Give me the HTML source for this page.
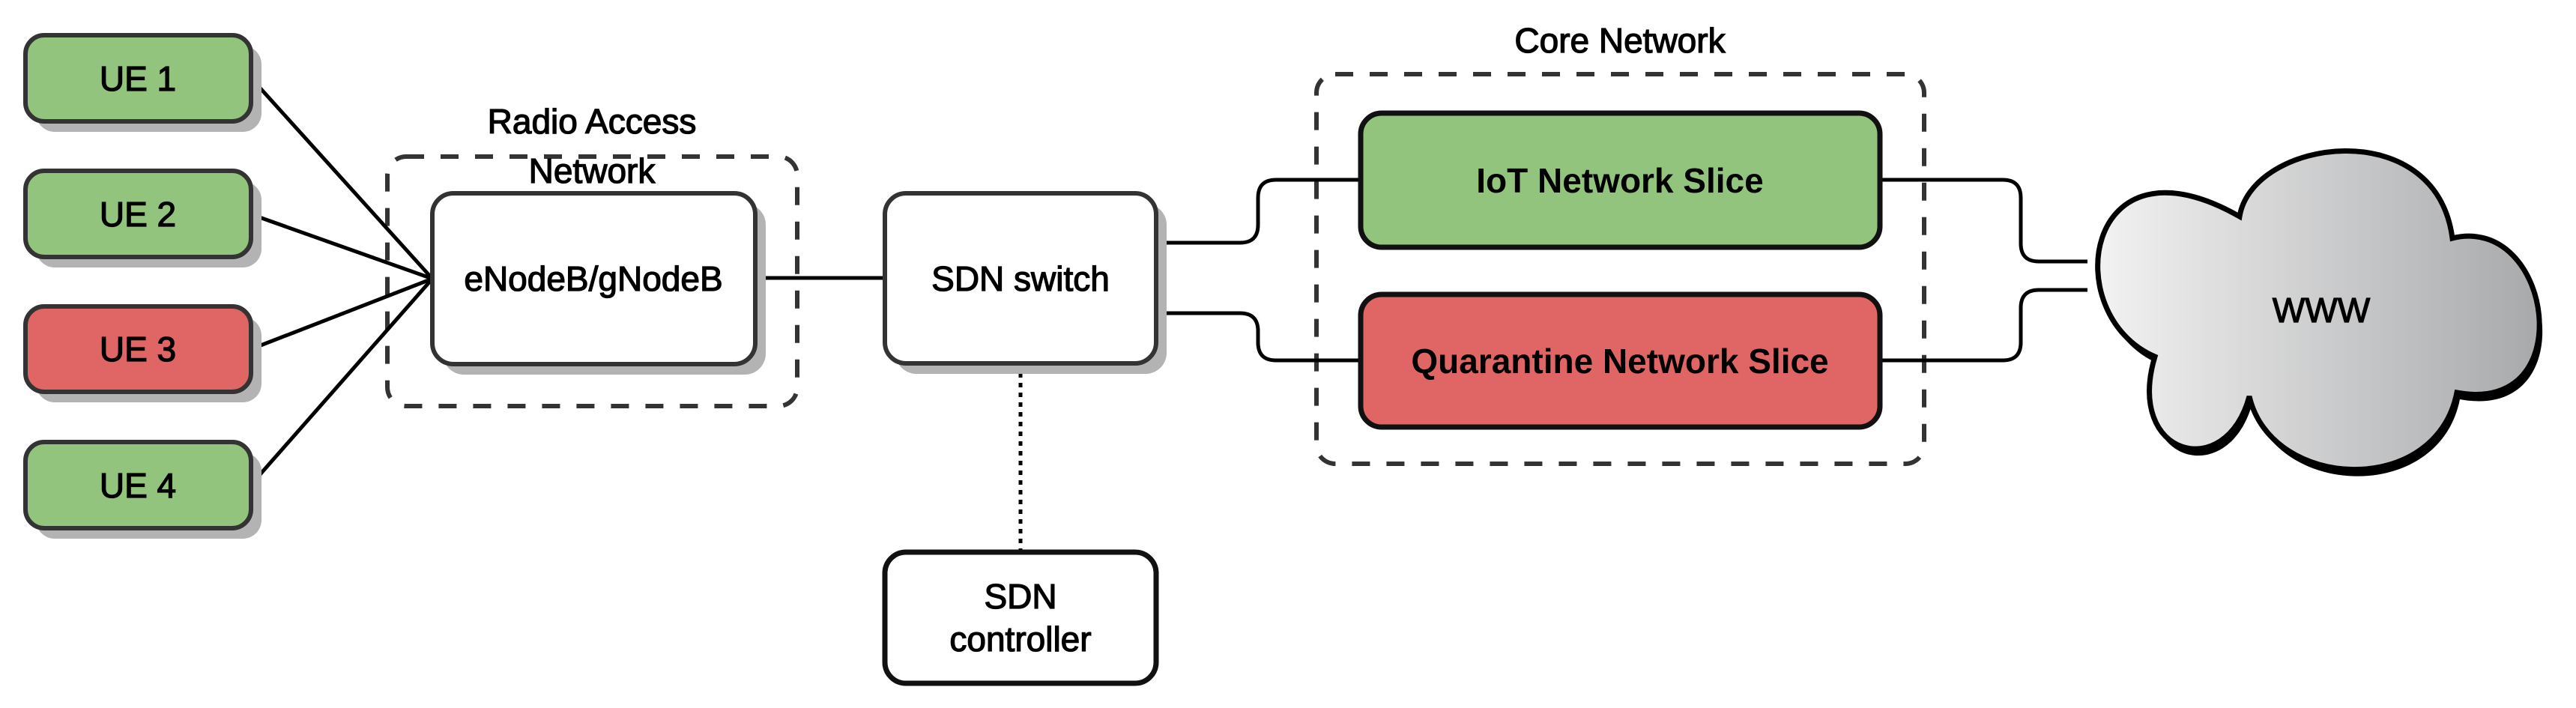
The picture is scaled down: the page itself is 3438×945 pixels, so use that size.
<!DOCTYPE html>
<html><head><meta charset="utf-8"><style>
html,body{margin:0;padding:0;background:#fff}
svg{display:block}
text{font-family:"Liberation Sans",sans-serif;fill:#000}
</style></head><body>
<svg width="3438" height="945" viewBox="0 0 3438 945" xmlns="http://www.w3.org/2000/svg">
<defs>
<linearGradient id="cg" x1="0" y1="0" x2="1" y2="0">
<stop offset="0" stop-color="#f2f2f2"/><stop offset="1" stop-color="#a8a9ab"/>
</linearGradient>
</defs>
<rect x="517" y="209" width="547" height="333" rx="25" fill="none" stroke="#333" stroke-width="6" stroke-dasharray="24 22"/>
<rect x="1757" y="99" width="811" height="520" rx="25" fill="none" stroke="#333" stroke-width="6" stroke-dasharray="24 22"/>
<g stroke="#000" stroke-width="5" fill="none">
<line x1="335" y1="104" x2="577" y2="372"/>
<line x1="335" y1="286" x2="577" y2="372"/>
<line x1="335" y1="466" x2="577" y2="372"/>
<line x1="335" y1="647" x2="577" y2="372"/>
<line x1="1008" y1="371" x2="1181" y2="371"/>
<path d="M1543 324 H1655 Q1679 324 1679 300 V264 Q1679 240 1703 240 H1816"/>
<path d="M1543 418 H1655 Q1679 418 1679 442 V457 Q1679 481 1703 481 H1816"/>
<path d="M2509 240 H2673 Q2697 240 2697 264 V325 Q2697 349 2721 349 H2786"/>
<path d="M2509 481 H2673 Q2697 481 2697 457 V411 Q2697 387 2721 387 H2786"/>
<line x1="1362" y1="485" x2="1362" y2="737" stroke-width="5" stroke-dasharray="6 7"/>
</g>
<g stroke="#333" stroke-width="6">
<rect x="48" y="61" width="301" height="115" rx="25" fill="#b3b3b3" stroke="none"/>
<rect x="34" y="47" width="301" height="115" rx="25" fill="#93c47d"/>
<rect x="48" y="242" width="301" height="115" rx="25" fill="#b3b3b3" stroke="none"/>
<rect x="34" y="228" width="301" height="115" rx="25" fill="#93c47d"/>
<rect x="48" y="423" width="301" height="114" rx="25" fill="#b3b3b3" stroke="none"/>
<rect x="34" y="409" width="301" height="114" rx="25" fill="#e06666"/>
<rect x="48" y="604" width="301" height="115" rx="25" fill="#b3b3b3" stroke="none"/>
<rect x="34" y="590" width="301" height="115" rx="25" fill="#93c47d"/>
<rect x="591" y="272" width="431" height="228" rx="28" fill="#b3b3b3" stroke="none"/>
<rect x="577" y="258" width="431" height="228" rx="28" fill="#fff"/>
<rect x="1195" y="272" width="362" height="227" rx="28" fill="#b3b3b3" stroke="none"/>
<rect x="1181" y="258" width="362" height="227" rx="28" fill="#fff"/>
</g>
<g stroke="#111" stroke-width="7">
<rect x="1181" y="737" width="362" height="175" rx="28" fill="#fff"/>
<rect x="1816" y="151" width="693" height="179" rx="28" fill="#93c47d"/>
<rect x="1816" y="393" width="693" height="177" rx="28" fill="#e06666"/>
</g>
<g transform="translate(2781,190)">
<path transform="translate(4,9)" d="M208 99 C225 -5 470 -40 492 128 C625 95 665 365 498 334 C470 475 250 465 221 339 C190 455 55 420 95 286 C-35 230 0 -20 208 99 Z" fill="#000"/>
<path d="M208 99 C225 -5 470 -40 492 128 C625 95 665 365 498 334 C470 475 250 465 221 339 C190 455 55 420 95 286 C-35 230 0 -20 208 99 Z" fill="url(#cg)" stroke="#000" stroke-width="7"/>
</g>
<g font-size="46" text-anchor="middle" stroke="#000" stroke-width="1.3">
<text x="184" y="121">UE 1</text>
<text x="184" y="302">UE 2</text>
<text x="184" y="482">UE 3</text>
<text x="184" y="664">UE 4</text>
<text x="790" y="178">Radio Access</text>
<text x="790" y="244">Network</text>
<text x="792" y="388">eNodeB/gNodeB</text>
<text x="1362" y="388">SDN switch</text>
<text x="1362" y="812">SDN</text>
<text x="1362" y="869">controller</text>
<text x="2162" y="70">Core Network</text>
<text x="3098" y="430">WWW</text>
</g>
<g font-size="46" text-anchor="middle" font-weight="bold">
<text x="2162" y="257">IoT Network Slice</text>
<text x="2162" y="498">Quarantine Network Slice</text>
</g>
</svg>
</body></html>
